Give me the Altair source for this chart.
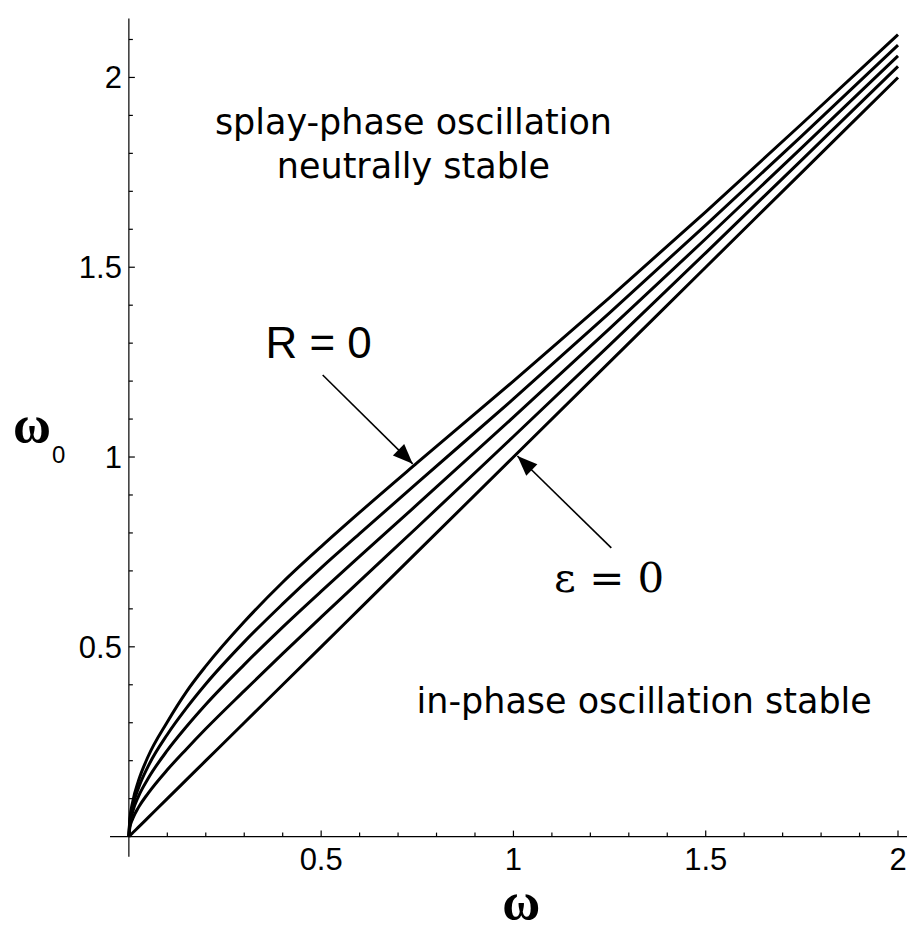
import altair as alt
import pandas as pd

# ---------------- data ----------------
omega = [0.0, 0.0025, 0.01, 0.025, 0.05, 0.1, 0.15, 0.2, 0.3, 0.4, 0.5,
         0.6, 0.75, 1.0, 1.25, 1.5, 1.75, 2.0]
# epsilon = 0 : the straight line
curve_eps0 = [0.0, 0.0025, 0.01, 0.025, 0.05, 0.1, 0.15, 0.2, 0.3, 0.4, 0.5,
              0.6, 0.75, 1.0, 1.25, 1.5, 1.75, 2.0]
curve_1 = [0.0, 0.023, 0.047, 0.077, 0.114, 0.176, 0.231, 0.284, 0.384, 0.482,
           0.578, 0.673, 0.815, 1.054, 1.295, 1.538, 1.783, 2.029]
curve_2 = [0.0, 0.033, 0.066, 0.106, 0.153, 0.227, 0.290, 0.348, 0.453, 0.552,
           0.646, 0.738, 0.875, 1.105, 1.338, 1.575, 1.815, 2.057]
curve_3 = [0.0, 0.040, 0.080, 0.128, 0.185, 0.269, 0.339, 0.402, 0.513, 0.613,
           0.708, 0.798, 0.932, 1.153, 1.380, 1.611, 1.846, 2.085]
# R = 0 : the top curve
curve_R0 = [0.0, 0.046, 0.092, 0.147, 0.211, 0.302, 0.382, 0.449, 0.566, 0.670,
            0.764, 0.854, 0.985, 1.200, 1.420, 1.646, 1.878, 2.113]

x_major = [0.5, 1.0, 1.5, 2.0]
x_major_labels = ["0.5", "1", "1.5", "2"]
x_minor = [0.1, 0.2, 0.3, 0.4, 0.6, 0.7, 0.8, 0.9, 1.1, 1.2, 1.3, 1.4,
           1.6, 1.7, 1.8, 1.9]
y_major = [0.5, 1.0, 1.5, 2.0]
y_major_labels = ["0.5", "1", "1.5", "2"]
y_minor = [0.1, 0.2, 0.3, 0.4, 0.6, 0.7, 0.8, 0.9, 1.1, 1.2, 1.3, 1.4,
           1.6, 1.7, 1.8, 1.9, 2.1]

X_DOMAIN = [-0.3143, 2.0234]
Y_DOMAIN = [-0.2447, 2.1816]
x_axis_extent = [-0.049, 2.0234]
y_axis_extent = [-0.053, 2.155]

region_text = ["splay-phase oscillation", "neutrally stable",
               "in-phase oscillation stable"]
region_x = [0.74, 0.74, 1.340]
region_y = [1.852, 1.735, 0.326]

r_label = ["R = 0"]
r_label_x = [0.4935]
r_label_y = [1.26]
eps_label = ["ε = 0"]
eps_label_x = [1.249]
eps_label_y = [0.645]

# arrows: tail -> tip
arrow_R_tail = (0.504, 1.216)
arrow_R_tip = (0.738, 0.982)
arrow_E_tail = (1.2545, 0.7605)
arrow_E_tip = (1.0104, 1.0026)

x_title = ["ω"]
x_title_pos = (1.02, -0.216)
y_title = ["ω"]
y_title_pos = (-0.252, 1.0395)
y_title_sub = ["0"]
y_title_sub_pos = (-0.2, 0.984)

W, H = 900, 922

# ---------------- chart ----------------
xs = alt.Scale(domain=X_DOMAIN, nice=False, zero=False)
ys = alt.Scale(domain=Y_DOMAIN, nice=False, zero=False)


def xe(f="x"):
    return alt.X(f"{f}:Q", scale=xs, axis=None)


def ye(f="y"):
    return alt.Y(f"{f}:Q", scale=ys, axis=None)


rows = []
for name, vals in [("eps0", curve_eps0), ("c1", curve_1), ("c2", curve_2),
                   ("c3", curve_3), ("R0", curve_R0)]:
    for xv, yv in zip(omega, vals):
        rows.append({"x": xv, "y": yv, "curve": name})
curves_df = pd.DataFrame(rows)

curves = alt.Chart(curves_df).mark_line(
    color="black", strokeWidth=3, interpolate="monotone"
).encode(x=xe(), y=ye(), detail="curve:N")

axes_df = pd.DataFrame({
    "x": [x_axis_extent[0], 0.0], "x2": [x_axis_extent[1], 0.0],
    "y": [0.0, y_axis_extent[0]], "y2": [0.0, y_axis_extent[1]],
})
axis_lines = alt.Chart(axes_df).mark_rule(color="black", strokeWidth=1.2).encode(
    x=xe(), x2="x2:Q", y=ye(), y2="y2:Q")


def ticks(xv, yv, shape, size):
    df = pd.DataFrame({"x": xv, "y": yv})
    return alt.Chart(df).mark_point(
        shape=shape, size=size, filled=False, stroke="black",
        strokeWidth=1.2, opacity=1
    ).encode(x=xe(), y=ye())


xt_major = ticks(x_major, [0.0] * len(x_major), "M0,0L0,-1", 144)
xt_minor = ticks(x_minor, [0.0] * len(x_minor), "M0,0L0,-1", 64)
yt_major = ticks([0.0] * len(y_major), y_major, "M0,0L1,0", 144)
yt_minor = ticks([0.0] * len(y_minor), y_minor, "M0,0L1,0", 64)

tick_font = "Liberation Sans, Arial, sans-serif"
xlab = alt.Chart(pd.DataFrame({"x": x_major, "y": [0.0] * 4, "t": x_major_labels})).mark_text(
    font=tick_font, fontSize=31, align="center", baseline="alphabetic", dy=33, color="black"
).encode(x=xe(), y=ye(), text="t:N")
ylab = alt.Chart(pd.DataFrame({"x": [0.0] * 4, "y": y_major, "t": y_major_labels})).mark_text(
    font=tick_font, fontSize=31, align="right", baseline="alphabetic", dx=-7, dy=11, color="black"
).encode(x=xe(), y=ye(), text="t:N")

regions = alt.Chart(pd.DataFrame({"x": region_x, "y": region_y, "t": region_text})).mark_text(
    font="DejaVu Sans", fontSize=35, align="center", baseline="alphabetic", color="black"
).encode(x=xe(), y=ye(), text="t:N")

rlab = alt.Chart(pd.DataFrame({"x": r_label_x, "y": r_label_y, "t": r_label})).mark_text(
    font=tick_font, fontSize=44, align="center", baseline="alphabetic", color="black"
).encode(x=xe(), y=ye(), text="t:N")

elab = alt.Chart(pd.DataFrame({"x": eps_label_x, "y": eps_label_y, "t": eps_label})).mark_text(
    font="DejaVu Serif", fontSize=42, align="center", baseline="alphabetic", color="black"
).encode(x=xe(), y=ye(), text="t:N")

arrows_df = pd.DataFrame({
    "x": [arrow_R_tail[0], arrow_E_tail[0]], "y": [arrow_R_tail[1], arrow_E_tail[1]],
    "x2": [arrow_R_tip[0], arrow_E_tip[0]], "y2": [arrow_R_tip[1], arrow_E_tip[1]],
})
shafts = alt.Chart(arrows_df).mark_rule(color="black", strokeWidth=1.6).encode(
    x=xe(), y=ye(), x2="x2:Q", y2="y2:Q")

head_shape = "M0,0L-0.8,2L0.8,2Z"
head_R = alt.Chart(pd.DataFrame({"x": [arrow_R_tip[0]], "y": [arrow_R_tip[1]]})).mark_point(
    shape=head_shape, size=400, filled=True, color="black", opacity=1, angle=135
).encode(x=xe(), y=ye())
head_E = alt.Chart(pd.DataFrame({"x": [arrow_E_tip[0]], "y": [arrow_E_tip[1]]})).mark_point(
    shape=head_shape, size=400, filled=True, color="black", opacity=1, angle=314
).encode(x=xe(), y=ye())

serif_bold = "Liberation Serif, Times New Roman, serif"
xtitle = alt.Chart(pd.DataFrame({"x": [x_title_pos[0]], "y": [x_title_pos[1]], "t": x_title})).mark_text(
    font=serif_bold, fontWeight="bold", fontSize=52, align="center", baseline="alphabetic", color="black"
).encode(x=xe(), y=ye(), text="t:N")
ytitle = alt.Chart(pd.DataFrame({"x": [y_title_pos[0]], "y": [y_title_pos[1]], "t": y_title})).mark_text(
    font=serif_bold, fontWeight="bold", fontSize=52, align="center", baseline="alphabetic", color="black"
).encode(x=xe(), y=ye(), text="t:N")
ysub = alt.Chart(pd.DataFrame({"x": [y_title_sub_pos[0]], "y": [y_title_sub_pos[1]], "t": y_title_sub})).mark_text(
    font=tick_font, fontSize=24, align="left", baseline="alphabetic", color="black"
).encode(x=xe(), y=ye(), text="t:N")

chart = alt.layer(
    axis_lines, xt_major, xt_minor, yt_major, yt_minor, xlab, ylab,
    curves, shafts, head_R, head_E, regions, rlab, elab, xtitle, ytitle, ysub
).properties(
    width=W, height=H, padding=0,
    autosize=alt.AutoSizeParams(type="none"),
    background="white",
).configure_view(strokeWidth=0)

chart.save("out.html", embed_options={"renderer": "svg", "actions": False})
